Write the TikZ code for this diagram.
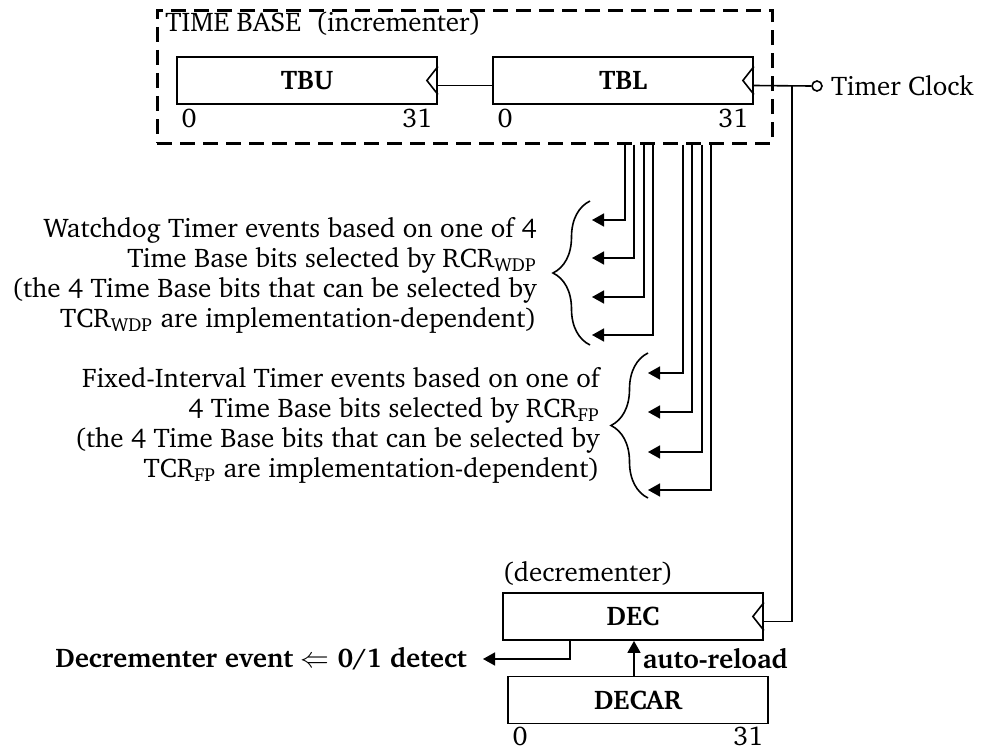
\documentclass[tikz,border=0pt]{standalone}
\usepackage[T1]{fontenc}
\usepackage{charter}
\usetikzlibrary{positioning, arrows.meta, calc, decorations.pathreplacing}

\newcommand{\tbfont}{\fontsize{13.5}{15}\selectfont}

\tikzset{
  reg/.style={draw, line width=0.9pt, minimum width=130pt, minimum height=23.5pt,
              inner sep=0pt, font=\tbfont\bfseries},
  bitno/.style={inner xsep=2.5pt, inner ysep=2pt},
  tbframe/.style={draw, line width=1.5pt, dash pattern=on 7.5pt off 4pt,
                  minimum width=307.5pt, minimum height=66.5pt, inner sep=0pt},
  wire/.style={line width=0.8pt},
  tap/.style={wire, -{Triangle[length=6pt,width=6.5pt]}},
  evbrace/.style={decorate, decoration={brace, amplitude=18.5pt}, line width=0.8pt},
  note/.style={align=right, inner sep=0pt},
}

\begin{document}
\begin{tikzpicture}[x=0.5pt, y=-0.5pt, font=\tbfont]
  \useasboundingbox (0,0) rectangle (982,755);

  % time base
  \node[tbframe] (tbase) at (464.5,76.5) {};
  \node[anchor=west, inner sep=0pt] (tbtitle) at (165,24) {TIME BASE\ \ (incrementer)};
  \node[reg] (tbu) at (307,80.5) {TBU};
  \node[reg] (tbl) at (623,80.5) {TBL};

  % decrementer
  \node[reg] (dec) at (633,616.5) {DEC};
  \node[reg] (decar) at (638,700) {DECAR};
  \node[anchor=south west, inner xsep=0pt, inner ysep=3pt] (decnote) at (dec.north west) {(decrementer)};

  % bit numbers
  \foreach \r/\s in {tbu/2pt,tbl/2pt,decar/1pt} {
    \node[bitno, inner ysep=\s, anchor=north west] (\r0) at (\r.south west) {0};
    \node[bitno, inner ysep=\s, anchor=north east] (\r31) at (\r.south east) {31};
  }

  % clock inputs
  \foreach \r in {tbu,tbl,dec}
    \draw[wire] ($(\r.east)+(0,-14)$) -- ++(-11,14) -- ++(11,14);

  \node[wire, draw, circle, minimum size=5pt, inner sep=0pt] (clk) at (817,86) {};
  \node[right=4pt of clk, inner sep=0pt] (clktxt) {Timer Clock};
  \coordinate (clkj) at (792,0 |- clk);

  \draw[wire] ([yshift=-2.5pt]tbu.east) -- ([yshift=-2.5pt]tbl.west);
  \draw[wire] ([yshift=-2.5pt]tbl.east) -- (clk.west);
  \draw[wire] (clkj) |- ([yshift=-2.5pt]dec.east);

  % watchdog taps
  \foreach \x/\y [count=\i] in {625/220, 634/258, 644/297, 653/335} {
    \coordinate (wd\i) at (592,\y);
    \draw[tap] (\x,0 |- tbase.south) |- (wd\i);
  }
  \draw[evbrace] (590,345) -- (590,201);
  \coordinate (wdtip) at (553,275);
  \node[note, left=8pt of wdtip] (wdnote) {Watchdog Timer events based on one of 4\\
    Time Base bits selected by RCR\textsubscript{WDP}\\
    (the 4 Time Base bits that can be selected by\\
    TCR\textsubscript{WDP} are implementation-dependent)};

  % fixed-interval taps
  \foreach \x/\y [count=\i] in {683/373, 692/412, 702/452, 711/490} {
    \coordinate (fit\i) at (648,\y);
    \draw[tap] (\x,0 |- tbase.south) |- (fit\i);
  }
  \draw[evbrace] (648,498) -- (648,353);
  \coordinate (fittip) at (610,425);
  \node[note, left=5pt of fittip] (fitnote) {Fixed-Interval Timer events based on one of\\
    4 Time Base bits selected by RCR\textsubscript{FP}\\
    (the 4 Time Base bits that can be selected by\\
    TCR\textsubscript{FP} are implementation-dependent)};

  % reload and event
  \coordinate (rld) at ([xshift=-2pt]decar.north);
  \draw[tap] (rld) -- (rld |- dec.south)
    node[midway, right, inner xsep=4pt, font=\tbfont\bfseries] (rldtxt) {auto-reload};

  \coordinate (dtap) at ([xshift=-31.5pt]dec.south);
  \coordinate (devt) at (483,659);
  \draw[tap] (dtap) |- (devt);
  \node[left=8pt of devt, inner sep=0pt, font=\tbfont\bfseries] (devtxt) {Decrementer event $\Leftarrow$ 0/1 detect};
\end{tikzpicture}
\end{document}
